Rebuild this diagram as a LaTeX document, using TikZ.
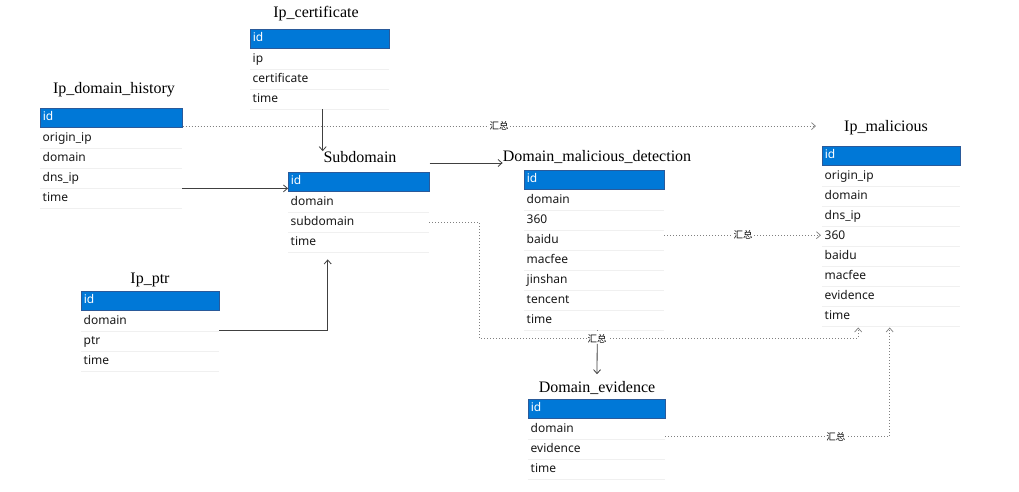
\documentclass[tikz,border=0pt]{standalone}
\usepackage{fontspec}
\setmainfont{Liberation Serif}
\newfontfamily\fieldfont{Noto Sans}
\newfontfamily\cjk{Noto Sans CJK SC}
\usetikzlibrary{arrows.meta}
\definecolor{idblue}{HTML}{0078D7}
\definecolor{idborder}{HTML}{2A5A9A}
\definecolor{sepgray}{HTML}{F0F0F0}
\newcommand{\dbtable}[7]{% name, left x, id top y, width, title x, title y, title text
  \node[tabtitle] (#1-t) at (#5,#6) {#7};
  \node[idrow, text width=#4-6] (#1-0) at (#2,#3) {id};
}
\newcommand{\dbfields}[5]{% name, left x, id top y, width, fields
  \foreach \f [count=\i] in {#5} {
    \node[fieldrow, text width=#4-6] (#1-\i) at (#2,#3+20*\i) {\f};
    \draw[sepline] (#1-\i.south west) -- (#1-\i.south east);
  }
}
\begin{document}
\begin{tikzpicture}[x=1pt,y=-1pt,
  tabtitle/.style={font=\fontsize{16}{18}\selectfont, inner sep=0pt},
  idrow/.style={anchor=north west, fill=idblue, draw=idborder, line width=0.6pt, minimum height=19pt,
    text height=9pt, text depth=3pt,
    inner xsep=2.5pt, inner ysep=0pt, align=left, text=white, font=\fieldfont\fontsize{12}{13}\selectfont},
  fieldrow/.style={anchor=north west, minimum height=20pt, text height=9pt, text depth=3pt,
    inner xsep=2.5pt, inner ysep=0pt, align=left,
    text=black!90, font=\fieldfont\fontsize{12}{13}\selectfont},
  sepline/.style={draw=sepgray, line width=0.8pt},
  conn/.style={draw=black!75, line width=0.8pt, -{Straight Barb[length=4pt,width=7pt]}},
  dotconn/.style={draw=black!50, line width=0.7pt, dash pattern=on 0.8pt off 2.2pt},
  dotarrow/.style={dotconn, -{Straight Barb[length=4pt,width=7pt,line width=0.7pt,sep]}},
  sumlbl/.style={fill=white, inner sep=1pt, font=\cjk\fontsize{9.5}{10}\selectfont}
]
\useasboundingbox[fill=white] (0,0) rectangle (1019,492);

% tables
\dbtable{cert}{250}{29}{140}{316}{14}{Ip\_certificate}
\dbfields{cert}{250}{29}{140}{ip,certificate,time}

\dbtable{dh}{40}{108}{143}{114}{90}{Ip\_domain\_history}
\dbfields{dh}{40}{108}{143}{origin\_ip,domain,dns\_ip,time}

\dbtable{sub}{288}{172}{142}{360}{157}{Subdomain}
\dbfields{sub}{288}{172}{142}{domain,subdomain,time}

\dbtable{dmd}{524}{170}{141}{597}{157}{Domain\_malicious\_detection}
\dbfields{dmd}{524}{170}{141}{domain,360,baidu,macfee,jinshan,tencent,time}

\dbtable{mal}{822}{146}{139}{886}{128}{Ip\_malicious}
\dbfields{mal}{822}{146}{139}{origin\_ip,domain,dns\_ip,360,baidu,macfee,evidence,time}

\dbtable{ptr}{81}{291}{139}{150}{280}{Ip\_ptr}
\dbfields{ptr}{81}{291}{139}{domain,ptr,time}

\dbtable{ev}{528}{399}{138}{597}{388}{Domain\_evidence}
\dbfields{ev}{528}{399}{138}{domain,evidence,time}

% solid connectors
\draw[conn] ([xshift=3pt]cert-3.south) -- ([xshift=3pt]cert-3.south |- sub-t.north);
\draw[conn] (dh-3.south east) -- (dh-3.south east -| sub-0.west);
\draw[conn] ([yshift=-6pt]sub-t.east -| sub-0.east) -- ([yshift=-6pt]sub-t.east -| dmd-t.west);
\draw[conn] ([yshift=1pt]ptr-1.south east) -| ([xshift=-31pt,yshift=-7pt]sub-3.south);

% dotted summary connectors
\coordinate (malin) at ([xshift=-27pt]mal-t.west |- dh-0.south);
\draw[dotarrow] ([yshift=1.5pt]dh-0.south east) -- ([yshift=1.5pt]malin)
  node[sumlbl, pos=0.499] (l1) {汇总};

\draw[dotarrow] ([yshift=5pt]dmd-3.east) -- ([yshift=5pt]dmd-3.east -| mal-4.west)
  node[sumlbl, midway] (l3) {汇总};

\draw[dotarrow] (sub-2.east) -- ++(50,0) -- ++(0,116) -| ([xshift=-33pt]mal-8.south);
\node[sumlbl] (l2) at ([xshift=3pt,yshift=-8pt]dmd-7.south) {汇总};
\draw[dotconn] ([xshift=3pt]dmd-7.south) -- (l2.north);
\draw[conn] (l2.south) -- ([yshift=7pt]ev-t.north);

\draw[dotarrow] ([yshift=3pt]ev-1.south east) -| ([xshift=-1.5pt]mal-8.south)
  node[sumlbl, pos=0.38] (l4) {汇总};
\end{tikzpicture}
\end{document}
